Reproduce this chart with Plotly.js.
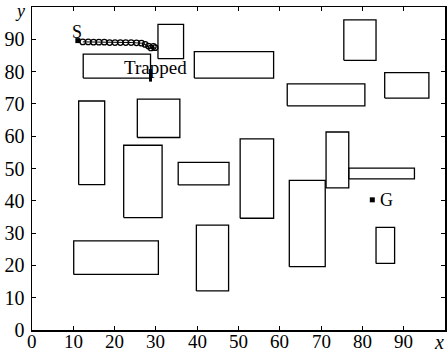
<!DOCTYPE html>
<html>
<head>
<meta charset="utf-8">
<script src="https://cdn.plot.ly/plotly-3.0.1.min.js"></script>
<style>html,body{margin:0;padding:0;background:#fff;}#chart{width:448px;height:352px;}</style>
</head>
<body>
<div id="chart"></div>
<script>
// Obstacles (rectangles): left, right, bottom, top
var rectX0 = [30.5, 12.4, 39.3, 11.3, 25.5, 22.2, 35.4, 50.4, 75.5, 85.4, 61.8, 71.2, 76.7, 62.3, 83.3, 10.1, 39.8];
var rectX1 = [36.7, 28.7, 58.5, 17.6, 35.8, 31.5, 47.7, 58.5, 83.3, 96.1, 80.6, 76.7, 92.6, 71.0, 87.8, 30.6, 47.6];
var rectY0 = [84.0, 78.0, 78.0, 45.0, 59.6, 34.8, 44.9, 34.6, 83.5, 71.8, 69.4, 44.0, 46.8, 19.6, 20.6, 17.2, 12.1];
var rectY1 = [94.6, 85.4, 86.2, 70.9, 71.5, 57.2, 51.9, 59.2, 96.0, 79.7, 76.2, 61.3, 50.1, 46.3, 31.8, 27.6, 32.5];

// Robot path from S until trapped
var pathX = [12.3, 13.6, 14.9, 16.2, 17.5, 18.8, 20.1, 21.4, 22.7, 24.0, 25.3, 26.5, 27.4, 28.2, 28.8, 29.4, 29.8];
var pathY = [89.2, 89.2, 89.1, 89.1, 89.1, 89.0, 89.0, 89.0, 89.0, 89.0, 88.9, 88.8, 88.4, 87.9, 87.3, 87.8, 87.4];

var startPt = [11.1, 89.6];
var goalPt = [82.4, 40.3];
var trapX = [28.7, 28.7];
var trapY = [76.9, 80.8];

var tickVals = [0, 10, 20, 30, 40, 50, 60, 70, 80, 90];
var tickText = ['0', '10', '20', '30', '40', '50', '60', '70', '80', '90'];

var rx = [], ry = [];
for (var i = 0; i < rectX0.length; i++) {
  rx.push(rectX0[i], rectX1[i], rectX1[i], rectX0[i], rectX0[i], null);
  ry.push(rectY0[i], rectY0[i], rectY1[i], rectY1[i], rectY0[i], null);
}

var font = 'Liberation Serif, Times New Roman, serif';

var traces = [
  {x: rx, y: ry, mode: 'lines', type: 'scatter', line: {color: '#000', width: 1.3}, hoverinfo: 'skip', connectgaps: false},
  {x: pathX, y: pathY, mode: 'lines+markers', type: 'scatter', line: {color: '#000', width: 1},
   marker: {symbol: 'circle-open', size: 5.5, color: '#000', line: {width: 1.2}}},
  {x: [startPt[0]], y: [startPt[1]], mode: 'markers', type: 'scatter', marker: {symbol: 'square', size: 5, color: '#000'}},
  {x: [goalPt[0]], y: [goalPt[1]], mode: 'markers', type: 'scatter', marker: {symbol: 'square', size: 5, color: '#000'}},
  {x: trapX, y: trapY, mode: 'lines', type: 'scatter', line: {color: '#000', width: 3}}
];

var axisCommon = {
  range: [0, 100], tickvals: tickVals, ticktext: tickText,
  ticks: 'inside', ticklen: 4, tickwidth: 1, tickcolor: '#000',
  showline: true, linecolor: '#000', linewidth: 1.5, mirror: 'ticks',
  showgrid: false, zeroline: false, fixedrange: true,
  tickfont: {family: font, size: 20, color: '#000'}
};

var annotations = [
  {x: 10.8, y: 92.3, xref: 'x', yref: 'y', text: 'S', showarrow: false, font: {family: font, size: 18, color: '#000'}},
  {x: 85.8, y: 40.3, xref: 'x', yref: 'y', text: 'G', showarrow: false, font: {family: font, size: 18, color: '#000'}},
  {x: 30.0, y: 81.4, xref: 'x', yref: 'y', text: 'Trapped', showarrow: false, font: {family: font, size: 19, color: '#000'}},
  {xref: 'paper', yref: 'paper', x: 0, y: 1, xanchor: 'center', yanchor: 'top', xshift: -12, yshift: 7, borderpad: 0, text: '<i>y</i>', showarrow: false, font: {family: font, size: 18, color: '#000'}},
  {xref: 'paper', yref: 'paper', x: 1, y: 0, xanchor: 'center', yanchor: 'middle', xshift: -6, yshift: -12, text: '<i>x</i>', showarrow: false, font: {family: font, size: 20, color: '#000'}}
];
// x-axis tick labels placed just under the axis line (at the x scale positions)
for (var k = 0; k < tickVals.length; k++) {
  annotations.push({x: tickVals[k], xref: 'x', y: 0, yref: 'paper', xanchor: 'center', yanchor: 'middle',
    yshift: -11, text: tickText[k], showarrow: false, borderpad: 0,
    font: {family: font, size: 19, color: '#000'}});
}

var layout = {
  width: 448, height: 352,
  margin: {l: 31.5, r: 3, t: 7, b: 22},
  paper_bgcolor: '#fff', plot_bgcolor: '#fff',
  showlegend: false,
  xaxis: Object.assign({}, axisCommon, {showticklabels: false}),
  yaxis: Object.assign({}, axisCommon, {ticklabelstandoff: 2}),
  annotations: annotations
};

Plotly.newPlot('chart', traces, layout, {displayModeBar: false, staticPlot: true});
</script>
</body>
</html>
